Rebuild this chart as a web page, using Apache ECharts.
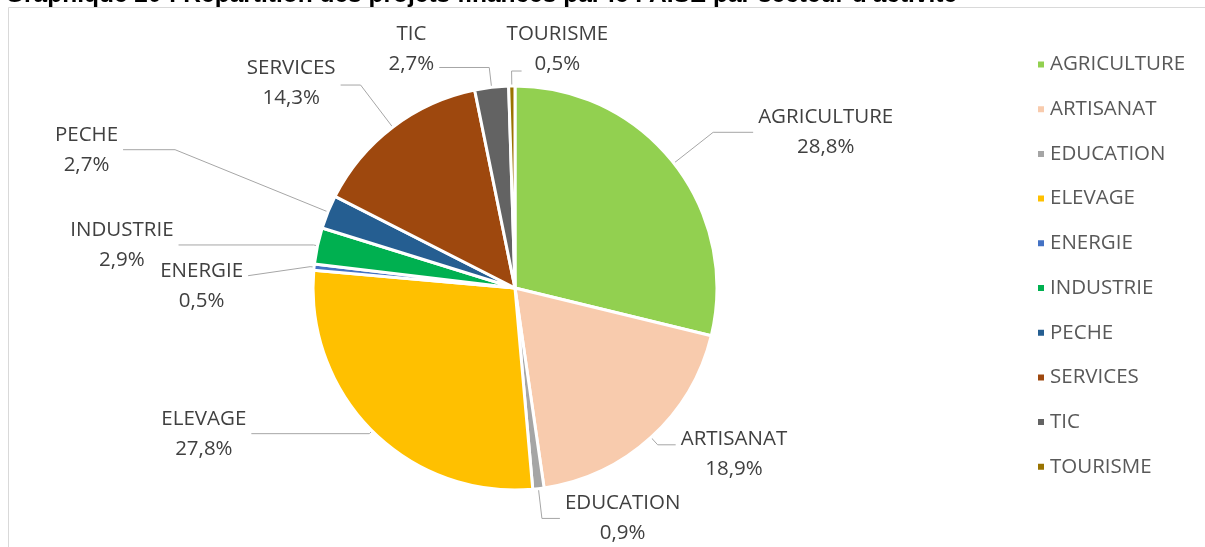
<!DOCTYPE html>
<html>
<head>
<meta charset="utf-8">
<script src="https://cdn.jsdelivr.net/npm/echarts@6/dist/echarts.min.js"></script>
<style>
  html, body { margin: 0; padding: 0; background: #fff; }
  #chart { width: 1205px; height: 547px; }
</style>
</head>
<body>
<div id="chart"></div>
<script>
// secteurs et parts (%)
const sectors = ['AGRICULTURE', 'ARTISANAT', 'EDUCATION', 'ELEVAGE', 'ENERGIE',
  'INDUSTRIE', 'PECHE', 'SERVICES', 'TIC', 'TOURISME'];
const shares = [28.8, 18.9, 0.9, 27.8, 0.5, 2.9, 2.7, 14.3, 2.7, 0.5];
const colors = ['#92D050', '#F8CBAD', '#A5A5A5', '#FFC000', '#4472C4',
  '#00B050', '#255E91', '#9E480E', '#636363', '#997300'];
// traits de rappel (radial, horizontal) et décalages verticaux des étiquettes
const lineLen1 = [50, 10, 30, 4, 4, 4, 165, 53, 20, 15];
const lineLen2 = [40, 18, 18, 118, 62, 135, 52, 20, 50, 10];
const labelDy = [0, 5, 0, 0, 15, 0, 0, -6, -23, -26];
const lineEndDy = [0, 0, 0, 0, 9, 0, 0, 0, 0, 0];

const titleText = "Graphique 20 : Répartition des projets financés par le FAISE par secteur d'activité";

const myChart = echarts.init(document.getElementById('chart'));

const option = {
  animation: false,
  color: colors,
  title: {
    text: titleText,
    left: 0,
    top: -22,
    textStyle: { fontFamily: 'Liberation Sans', fontWeight: 'bold', fontSize: 24.5, color: '#000' }
  },
  // cadre du graphique
  graphic: [{
    type: 'rect',
    shape: { x: 8.5, y: 7.5, width: 1300, height: 700 },
    style: { fill: 'none', stroke: '#d9d9d9', lineWidth: 1 },
    silent: true
  }],
  legend: {
    orient: 'vertical',
    left: 1031,
    top: 49,
    icon: 'rect',
    itemWidth: 8,
    itemHeight: 8,
    itemGap: 23.7,
    textStyle: { fontFamily: 'Open Sans', fontSize: 20.5, color: '#595959', lineHeight: 20 },
    data: sectors
  },
  series: [{
    type: 'pie',
    center: [515, 288],
    radius: 202,
    startAngle: 90,
    clockwise: true,
    avoidLabelOverlap: false,
    itemStyle: { borderColor: '#fff', borderWidth: 3 },
    label: {
      show: true,
      position: 'outside',
      formatter: p => '{n|' + p.name + '}\n{n|' + String(p.value).replace('.', ',') + '%}',
      rich: {
        n: { fontFamily: 'Open Sans', fontSize: 20.5, color: '#404040', lineHeight: 30, align: 'center' }
      }
    },
    labelLine: {
      show: true,
      lineStyle: { color: '#a6a6a6', width: 1 }
    },
    labelLayout: function (params) {
      const i = params.dataIndex;
      const pts = params.labelLinePoints;
      const r = params.labelRect;
      if (!pts) return {};
      const bend = pts[1];
      // TOURISME : étiquette au-dessus, trait renvoyé vers la droite
      if (i === sectors.length - 1) {
        const end = [bend[0] + lineLen2[i], bend[1]];
        return {
          x: bend[0] - 5,
          y: end[1] - r.height / 2 + labelDy[i],
          align: 'left',
          verticalAlign: 'top',
          labelLinePoints: [pts[0], bend, end]
        };
      }
      if (!labelDy[i] && !lineEndDy[i]) return {};
      const end = [pts[2][0], pts[2][1] + lineEndDy[i]];
      return {
        x: r.x,
        y: r.y + labelDy[i],
        align: 'left',
        verticalAlign: 'top',
        labelLinePoints: [pts[0], bend, end]
      };
    },
    data: sectors.map((s, i) => ({
      name: s,
      value: shares[i],
      labelLine: { length: lineLen1[i], length2: lineLen2[i] }
    }))
  }]
};

myChart.setOption(option);
</script>
</body>
</html>
